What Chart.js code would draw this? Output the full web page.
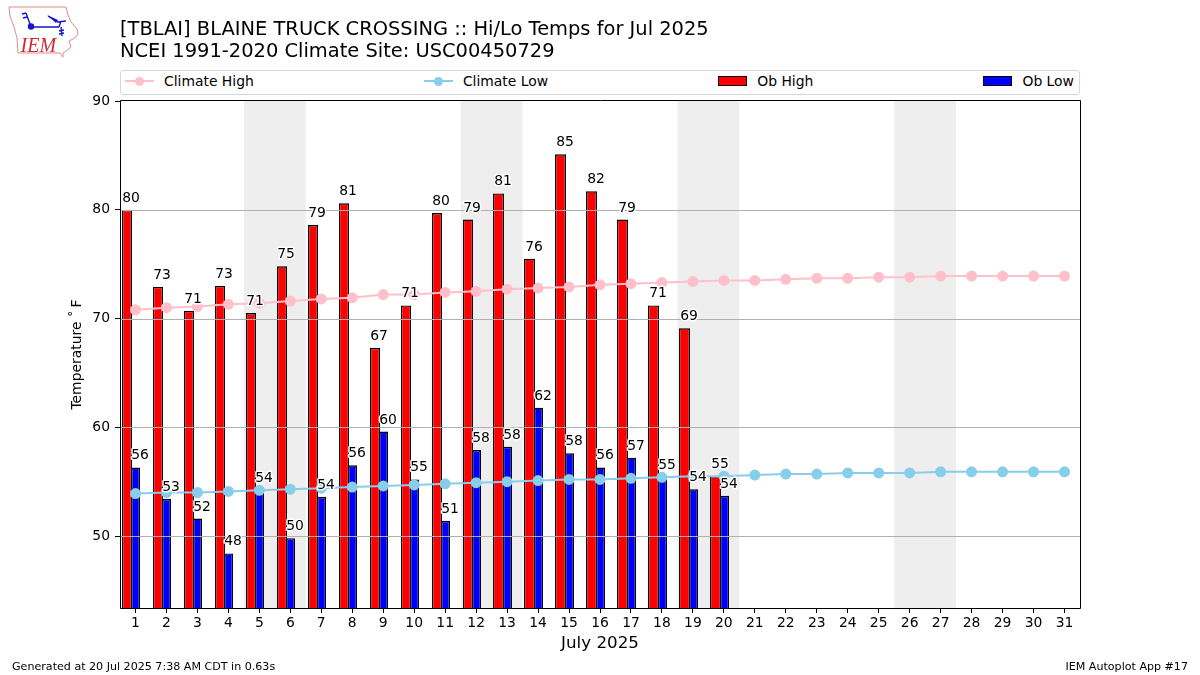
<!DOCTYPE html>
<html>
<head>
<meta charset="utf-8">
<title>TBLAI Hi/Lo Temps</title>
<script src="https://cdn.jsdelivr.net/npm/chart.js@4/dist/chart.umd.min.js"></script>
<style>
  body { margin: 0; background: #fff; font-family: "DejaVu Sans", sans-serif; color: #000; }
  #wrap { position: relative; width: 1200px; height: 675px; overflow: hidden; }
  #chart { position: absolute; left: 0; top: 0; }
  #logo { position: absolute; left: 0; top: 0; }
  .title { position: absolute; left: 120px; font-size: 19.45px; line-height: 22px; white-space: nowrap; }
  .foot { position: absolute; top: 660px; font-size: 11.1px; line-height: 13px; white-space: nowrap; }
  #legend { position: absolute; left: 120px; top: 70px; width: 960px; height: 25px; box-sizing: border-box;
            border: 1px solid #d6d6d6; border-radius: 3px; background: #fff; padding: 0 5px 3px 4px;
            display: flex; justify-content: space-between; align-items: center; font-size: 13.9px; }
  .item { display: flex; align-items: center; }
  .handle { position: relative; width: 29px; height: 12px; margin-right: 10px; }
  .handle i { position: absolute; display: block; }
  .handle .ln { left: 0; right: 0; top: 5px; height: 2px; }
  .handle .dot { left: 10px; top: 1.5px; width: 9px; height: 9px; border-radius: 50%; }
  .handle .box { left: 0; right: 0; top: 1px; height: 10px; box-sizing: border-box; border: 1px solid #000; }
</style>
</head>
<body>
<div id="wrap">
  <canvas id="chart" width="1200" height="675"></canvas>
  <svg id="logo" width="90" height="65" viewBox="0 0 90 65">
    <path d="M9 7 L66 7 L68 15 L71 22 L77 29 L78 34 L75 38 L69 41 L71 47 L66 51 L63 53 L63 57 L60 53 L18 53 L17 38 L14 27 L10 16 Z"
          fill="#fff" stroke="#e58a8a" stroke-width="1"/>
    <g stroke="#1414d2" stroke-width="1.4" fill="none">
      <path d="M31 27 L59 27 M26 13 L31 27 M22 14 L26 13 M23 18 L27 17"/>
      <path d="M48 16 L58 22 L66 21 M59 27 L61 21 M61 27 L62 36 M59 31 L64 30 M59 34 L64 33"/>
    </g>
    <path d="M47 15 L58 20 L56 23 Z" fill="#1414d2"/>
    <circle cx="31" cy="26.5" r="3.2" fill="#1414d2"/>
    <text x="20.5" y="52" font-family="Liberation Serif" font-style="italic" font-size="20" fill="#d22a36">IEM</text>
  </svg>
  <div class="title" style="top:18px">[TBLAI] BLAINE TRUCK CROSSING :: Hi/Lo Temps for Jul 2025</div>
  <div class="title" style="top:40px">NCEI 1991-2020 Climate Site: USC00450729</div>
  <div id="legend"></div>
  <div class="foot" style="left:12px">Generated at 20 Jul 2025 7:38 AM CDT in 0.63s</div>
  <div class="foot" style="right:12px">IEM Autoplot App #17</div>
</div>
<script>
const days = ['1','2','3','4','5','6','7','8','9','10','11','12','13','14','15','16','17','18','19','20','21','22','23','24','25','26','27','28','29','30','31'];
const climateHigh = [70.8,71.0,71.1,71.3,71.4,71.6,71.8,71.9,72.2,72.2,72.4,72.5,72.7,72.8,72.9,73.1,73.2,73.3,73.4,73.5,73.5,73.6,73.7,73.7,73.8,73.8,73.9,73.9,73.9,73.9,73.9];
const climateLow = [53.9,54.0,54.0,54.1,54.2,54.3,54.4,54.5,54.6,54.7,54.8,54.9,55.0,55.1,55.2,55.2,55.3,55.4,55.5,55.5,55.6,55.7,55.7,55.8,55.8,55.8,55.9,55.9,55.9,55.9,55.9];
const obHigh = [80.0,72.9,70.7,73.0,70.5,74.8,78.6,80.6,67.3,71.2,79.7,79.1,81.5,75.5,85.1,81.7,79.1,71.2,69.1,55.5];
const obLow = [56.3,53.4,51.6,48.4,54.2,49.8,53.6,56.5,59.6,55.2,51.4,57.9,58.2,61.8,57.6,56.3,57.2,55.4,54.3,53.7];
const obHighLabels = [80,73,71,73,71,75,79,81,67,71,80,79,81,76,85,82,79,71,69,55];
const obLowLabels = [56,53,52,48,54,50,54,56,60,55,51,58,58,62,58,56,57,55,54,54];
const yTicks = [50,60,70,80,90];
const weekendStarts = [5,12,19,26];

const FONT = '"DejaVu Sans"';
const BAR_SHIFT = -0.14; // bar pair sits a bit left of the day tick, in days

// nudge the bar pair left of the tick, then snap to whole pixels so the edges stay crisp
const crispBars = {
  id: 'crispBars',
  afterDatasetUpdate(chart, args) {
    if (args.index < 2) return;
    const shift = BAR_SHIFT * chart.scales.x.width / days.length;
    chart.getDatasetMeta(args.index).data.forEach(bar => {
      const left = Math.round(bar.x + shift - bar.width / 2);
      const right = Math.round(bar.x + shift + bar.width / 2) + (args.index === 2 ? 1 : 0);
      bar.width = right - left;
      bar.x = left + bar.width / 2;
    });
  }
};

// grey weekend bands, behind everything
const weekendBands = {
  id: 'weekendBands',
  beforeDatasetsDraw(chart) {
    const {ctx, chartArea, scales: {x}} = chart;
    const half = x.width / days.length / 2;
    ctx.save();
    ctx.fillStyle = '#eeeeee';
    weekendStarts.forEach(day => {
      const left = x.getPixelForValue(day - 1) - half;
      const right = x.getPixelForValue(day) + half;
      ctx.fillRect(left, chartArea.top, right - left, chartArea.height);
    });
    ctx.restore();
  }
};

// grid goes on top of the bars but under the lines
const gridOverBars = {
  id: 'gridOverBars',
  afterDatasetDraw(chart, args) {
    if (args.index !== 2) return;
    const {ctx, chartArea, scales: {y}} = chart;
    ctx.save();
    ctx.strokeStyle = '#b0b0b0';
    ctx.lineWidth = 1;
    y.ticks.forEach(t => {
      if (t.value >= 90) return;
      const py = Math.round(y.getPixelForValue(t.value)) + 0.5;
      ctx.beginPath();
      ctx.moveTo(chartArea.left, py);
      ctx.lineTo(chartArea.right, py);
      ctx.stroke();
    });
    ctx.restore();
  }
};

// value labels with white halo, and the axes frame
const barLabels = {
  id: 'barLabels',
  afterDatasetsDraw(chart) {
    const {ctx, chartArea} = chart;
    const sets = [[2, obHighLabels, 1], [3, obLowLabels, 0]];
    ctx.save();
    ctx.font = '13.9px ' + FONT;
    ctx.textAlign = 'center';
    ctx.textBaseline = 'alphabetic';
    ctx.lineJoin = 'round';
    sets.forEach(([idx, labels, back]) => {
      chart.getDatasetMeta(idx).data.forEach((bar, i) => {
        const lx = bar.x + bar.width / 2 - back;
        ctx.strokeStyle = '#fff';
        ctx.lineWidth = 3;
        ctx.strokeText(labels[i], lx, bar.y - 8);
        ctx.fillStyle = '#000';
        ctx.fillText(labels[i], lx, bar.y - 8);
      });
    });
    ctx.strokeStyle = '#000';
    ctx.lineWidth = 1;
    ctx.strokeRect(chartArea.left + 0.5, chartArea.top - 0.5, chartArea.width, chartArea.height + 1);
    ctx.restore();
  }
};

const config = {
  type: 'bar',
  data: {
    labels: days,
    datasets: [
      { type: 'line', label: 'Climate High', data: climateHigh, borderColor: '#ffc0cb', backgroundColor: '#ffc0cb',
        borderWidth: 2, pointRadius: 4.5, pointHoverRadius: 4.5, tension: 0, order: 1 },
      { type: 'line', label: 'Climate Low', data: climateLow, borderColor: '#87ceeb', backgroundColor: '#87ceeb',
        borderWidth: 2, pointRadius: 4.5, pointHoverRadius: 4.5, tension: 0, order: 1 },
      { label: 'Ob High', data: obHigh, backgroundColor: '#ff0000', borderColor: '#000', borderWidth: 1.4,
        barPercentage: 1, categoryPercentage: 0.6, order: 2 },
      { label: 'Ob Low', data: obLow, backgroundColor: '#0000ff', borderColor: '#000', borderWidth: 1.4,
        barPercentage: 1, categoryPercentage: 0.6, order: 2 }
    ]
  },
  options: {
    responsive: false,
    animation: false,
    devicePixelRatio: 1,
    layout: { padding: { left: 0, top: 101, right: 120, bottom: 0 } },
    scales: {
      x: {
        grid: { drawOnChartArea: false, offset: false, tickColor: '#000', tickLength: 5, tickWidth: 1 },
        border: { display: false },
        ticks: { color: '#000', font: { family: FONT, size: 13.9 }, padding: 2, maxRotation: 0, autoSkip: false },
        title: { display: true, text: 'July 2025', color: '#000', font: { family: FONT, size: 16.7 }, padding: { top: 2, bottom: 21 } },
        afterFit(scale) { scale.height = 67; }
      },
      y: {
        min: 43.38,
        max: 90,
        grid: { drawOnChartArea: false, tickColor: '#000', tickLength: 5, tickWidth: 1 },
        border: { display: false },
        ticks: { color: '#000', font: { family: FONT, size: 13.9 }, padding: 5 },
        afterBuildTicks(scale) { scale.ticks = yTicks.map(v => ({ value: v })); },
        title: { display: true, text: 'Temperature ˚\u2009F', color: '#000', font: { family: FONT, size: 13.9 }, padding: { top: 69, bottom: 0 } },
        afterFit(scale) { scale.width = 120; }
      }
    },
    plugins: {
      legend: { display: false },
      title: { display: false },
      tooltip: { enabled: false }
    }
  },
  plugins: [crispBars, weekendBands, gridOverBars, barLabels]
};

const chart = new Chart(document.querySelector('#chart'), config);

// matplotlib style legend, four columns across the axes
const legendBox = document.querySelector('#legend');
chart.data.datasets.forEach(ds => {
  const item = document.createElement('div');
  item.className = 'item';
  const swatch = ds.type === 'line'
    ? `<i class="ln" style="background:${ds.borderColor}"></i><i class="dot" style="background:${ds.borderColor}"></i>`
    : `<i class="box" style="background:${ds.backgroundColor}"></i>`;
  item.innerHTML = `<span class="handle">${swatch}</span><span>${ds.label}</span>`;
  legendBox.appendChild(item);
});
</script>
</body>
</html>
